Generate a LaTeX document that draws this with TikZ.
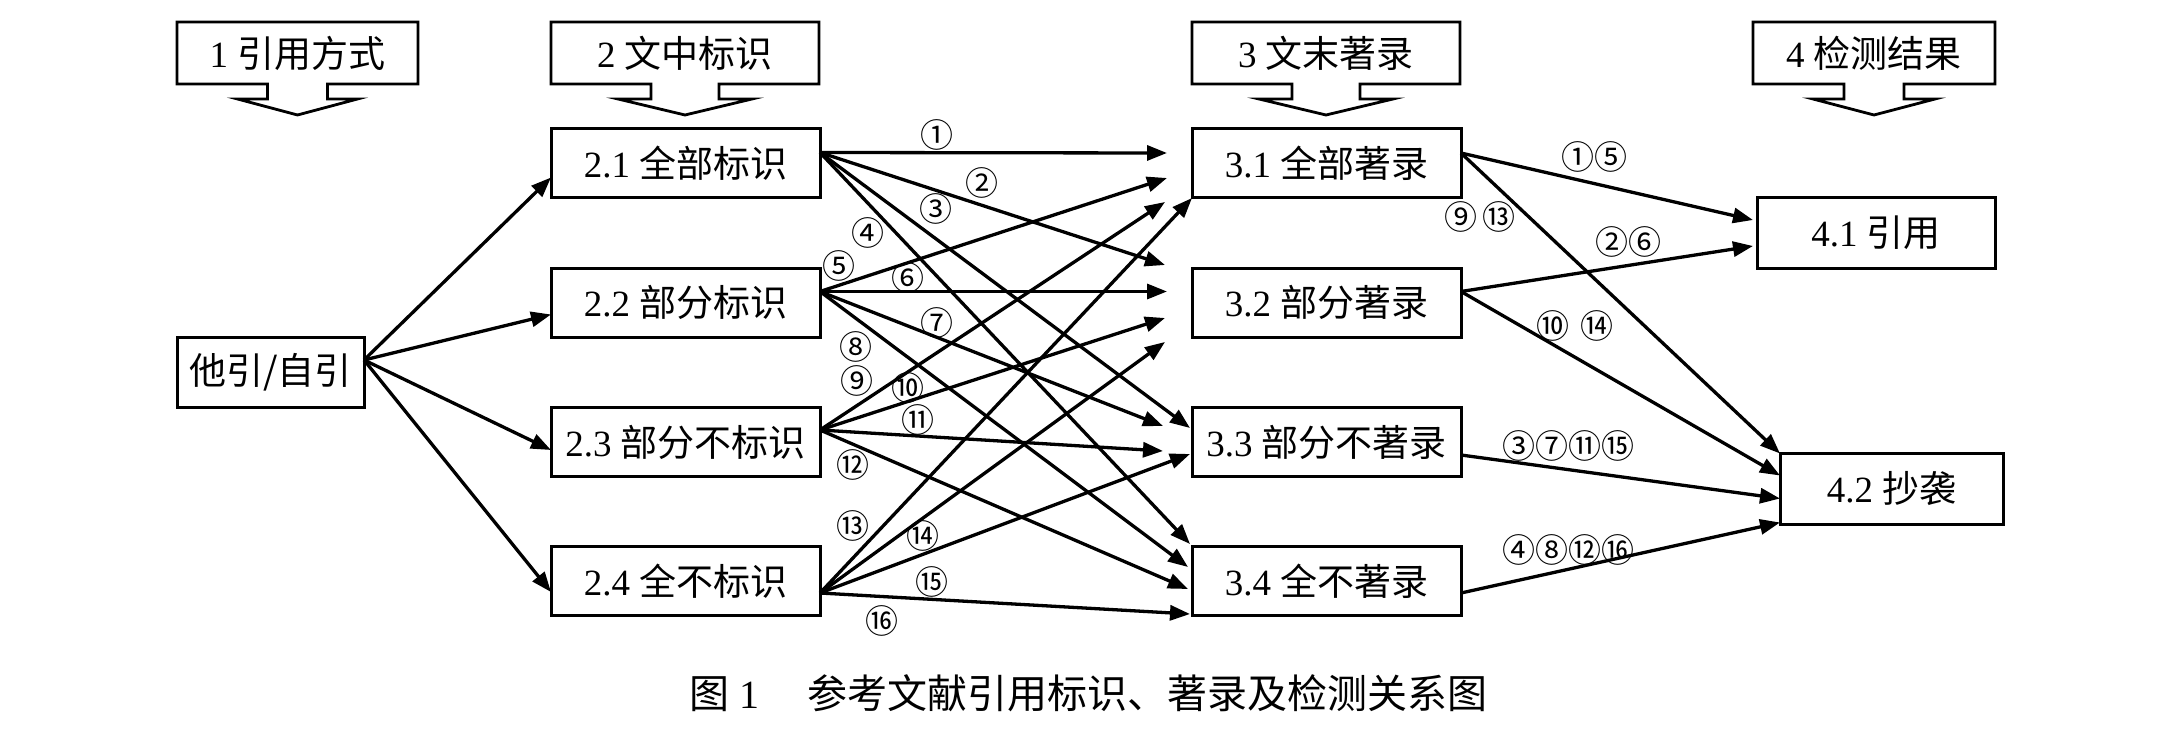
\documentclass[tikz,border=0pt]{standalone}
\usepackage{fontspec}
\setmainfont{Liberation Serif}
\newfontfamily\cjk{Noto Sans CJK SC}
\usetikzlibrary{arrows.meta,calc}
\newcommand{\zh}[1]{{\cjk #1}}
\newcommand{\hdrshape}[3]{%
  \draw[callout] (#1.north west) -- (#1.north east) -- (#1.south east)
    -- ($(#1.south)+(#2,0)$) -- ($(#1.south)+(#2,15)$) -- ($(#1.south)+(#3,15)$)
    -- ($(#1.south)+(0,31)$) -- ($(#1.south)+(-#3,15)$) -- ($(#1.south)+(-#2,15)$)
    -- ($(#1.south)+(-#2,0)$) -- (#1.south west) -- cycle;}
\begin{document}
\begin{tikzpicture}[x=1pt,y=-1pt,
  box/.style={draw,line width=3pt,minimum height=69pt,inner sep=0pt,outer sep=0pt,font=\fontsize{37}{40}\selectfont},
  hdr/.style={inner sep=0pt,outer sep=0pt,minimum height=62pt,font=\fontsize{37}{40}\selectfont},
  callout/.style={line width=2.8pt,line join=miter},
  conn/.style={line width=3.3pt,-{Triangle[length=20pt,width=15pt]}},
  num/.style={font=\cjk\fontsize{33}{33}\selectfont,inner sep=0pt},
]
\fill[white] (0,0) rectangle (2160,746);
\useasboundingbox (0,0) rectangle (2160,746);

% header callouts
\node[hdr,minimum width=241pt] (h1) at (297.5,53) {1 \zh{引用方式}};
\node[hdr,minimum width=268pt] (h2) at (685,53) {2 \zh{文中标识}};
\node[hdr,minimum width=268pt] (h3) at (1326,53) {3 \zh{文末著录}};
\node[hdr,minimum width=242pt] (h4) at (1874,53) {4 \zh{检测结果}};
\hdrshape{h1}{30}{60}
\hdrshape{h2}{34}{67}
\hdrshape{h3}{34}{67}
\hdrshape{h4}{30}{61}

% boxes
\node[box,minimum width=187pt,minimum height=70pt] (n0) at (270.5,372) {\zh{他引/自引}};
\node[box,minimum width=269pt] (n21) at (685.5,163.5) {2.1 \zh{全部标识}};
\node[box,minimum width=269pt] (n22) at (685.5,302.5) {2.2 \zh{部分标识}};
\node[box,minimum width=269pt] (n23) at (685.5,442) {2.3 \zh{部分不标识}};
\node[box,minimum width=269pt] (n24) at (685.5,581) {2.4 \zh{全不标识}};
\node[box,minimum width=269pt] (n31) at (1326.5,163.5) {3.1 \zh{全部著录}};
\node[box,minimum width=269pt] (n32) at (1326.5,302.5) {3.2 \zh{部分著录}};
\node[box,minimum width=269pt] (n33) at (1326.5,442) {3.3 \zh{部分不著录}};
\node[box,minimum width=269pt] (n34) at (1326.5,581) {3.4 \zh{全不著录}};
\node[box,minimum width=238pt,minimum height=70pt] (n41) at (1876,233) {4.1 \zh{引用}};
\node[box,minimum width=223pt,minimum height=71pt] (n42) at (1891.5,488.5) {4.2 \zh{抄袭}};

% left connectors
\coordinate (s0) at ($(n0.east)+(0,-12)$);
\coordinate (a21) at ($(n21.west)+(0,14)$);
\coordinate (a22) at ($(n22.west)+(0,12)$);
\coordinate (a23) at ($(n23.west)+(0,8)$);
\coordinate (a24) at ($(n24.west)+(0,11)$);
\draw[conn] (s0) -- (a21);
\draw[conn] (s0) -- (a22);
\draw[conn] (s0) -- (a23);
\draw[conn] (s0) -- (a24);

% middle sources
\coordinate (s21) at ($(n21.east)+(0,-11)$);
\coordinate (s22) at ($(n22.east)+(0,-11)$);
\coordinate (s23) at ($(n23.east)+(0,-12)$);
\coordinate (s24) at ($(n24.east)+(0,12)$);
% middle tips
\coordinate (t1) at ($(n31.west)+(-25,-10.5)$);
\coordinate (t5) at ($(n31.west)+(-25,14.5)$);
\coordinate (t9) at ($(n31.west)+(-27,38.5)$);
\coordinate (t13) at (n31.south west);
\coordinate (t2) at ($(n32.west)+(-27,-37.5)$);
\coordinate (t6) at ($(n32.west)+(-25,-11)$);
\coordinate (t10) at ($(n32.west)+(-27,15.5)$);
\coordinate (t14) at ($(n32.west)+(-27,39.5)$);
\coordinate (t3) at ($(n33.west)+(-2,-14)$);
\coordinate (t7) at ($(n33.west)+(-29,-16)$);
\coordinate (t11) at ($(n33.west)+(-29,9)$);
\coordinate (t15) at ($(n33.west)+(-2,12)$);
\coordinate (t4) at ($(n34.west)+(-2,-37)$);
\coordinate (t8) at ($(n34.west)+(-4,-14)$);
\coordinate (t12) at ($(n34.west)+(-4,8)$);
\coordinate (t16) at ($(n34.west)+(-2,33)$);
\draw[conn] (s21) -- (t1);
\draw[conn] (s21) -- (t2);
\draw[conn] (s21) -- (t3);
\draw[conn] (s21) -- (t4);
\draw[conn] (s22) -- (t5);
\draw[conn] (s22) -- (t6);
\draw[conn] (s22) -- (t7);
\draw[conn] (s22) -- (t8);
\draw[conn] (s23) -- (t9);
\draw[conn] (s23) -- (t10);
\draw[conn] (s23) -- (t11);
\draw[conn] (s23) -- (t12);
\draw[conn] (s24) -- (t13);
\draw[conn] (s24) -- (t14);
\draw[conn] (s24) -- (t15);
\draw[conn] (s24) -- (t16);

% right connectors
\coordinate (r31) at ($(n31.east)+(0,-10.5)$);
\coordinate (r32) at ($(n32.east)+(0,-11)$);
\coordinate (r33) at ($(n33.east)+(0,13)$);
\coordinate (r34) at ($(n34.east)+(0,12)$);
\coordinate (u1) at ($(n41.west)+(-4,-13)$);
\coordinate (u2) at ($(n41.west)+(-4,13)$);
\coordinate (v1) at ($(n42.west)+(0,-35)$);
\coordinate (v2) at ($(n42.west)+(0,-13)$);
\coordinate (v3) at ($(n42.west)+(0,10)$);
\coordinate (v4) at ($(n42.west)+(0,34)$);
\draw[conn] (r31) -- (u1);
\draw[conn] (r32) -- (u2);
\draw[conn] (r31) -- (v1);
\draw[conn] (r32) -- (v2);
\draw[conn] (r33) -- (v3);
\draw[conn] (r34) -- (v4);

% labels middle
\node[num] (l1) at (937,135) {①};
\node[num] (l2) at (982,183) {②};
\node[num] (l3) at (936,209) {③};
\node[num] (l4) at (868,233) {④};
\node[num] (l5) at (839,266) {⑤};
\node[num] (l6) at (908,278) {⑥};
\node[num] (l7) at (937,323) {⑦};
\node[num] (l8) at (856,347) {⑧};
\node[num] (l9) at (857,381) {⑨};
\node[num] (l10) at (908,388) {⑩};
\node[num] (l11) at (918,420) {⑪};
\node[num] (l12) at (853,465) {⑫};
\node[num] (l13) at (853,526) {⑬};
\node[num] (l14) at (923,536) {⑭};
\node[num] (l15) at (932,582) {⑮};
\node[num] (l16) at (882,621) {⑯};

% labels right
\node[num] (m1) at (1594,157) {①⑤};
\node[num] (m2) at (1480,217) {⑨\hspace{6pt}⑬};
\node[num] (m3) at (1628,242) {②⑥};
\node[num] (m4) at (1575,326) {⑩\hspace{12pt}⑭};
\node[num] (m5) at (1568,446) {③⑦⑪⑮};
\node[num] (m6) at (1568,550) {④⑧⑫⑯};

% caption
\node[inner sep=0pt,font=\fontsize{40}{44}\selectfont] (cap) at (1088,693) {\zh{图} 1\hspace{1.2em}\zh{参考文献引用标识、著录及检测关系图}};
\end{tikzpicture}
\end{document}
